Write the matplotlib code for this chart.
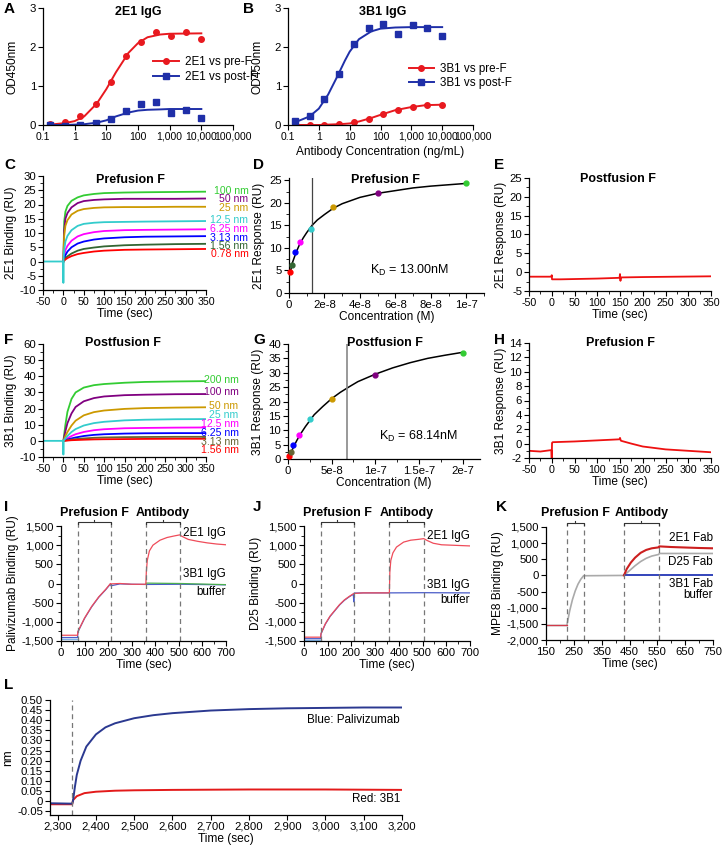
import matplotlib
matplotlib.use("Agg")
import matplotlib.pyplot as plt
import matplotlib.transforms as mtransforms
from matplotlib.ticker import AutoMinorLocator, FuncFormatter, FixedLocator
import numpy as np

plt.rcParams["font.family"] = ["Liberation Sans", "DejaVu Sans"]
plt.rcParams["font.size"] = 8.2
plt.rcParams["axes.labelsize"] = 8.6
plt.rcParams["axes.unicode_minus"] = False
plt.rcParams["mathtext.fontset"] = "custom"
plt.rcParams["mathtext.rm"] = "Liberation Sans"
plt.rcParams["mathtext.it"] = "Liberation Sans"
plt.rcParams["xtick.major.size"] = 3.5
plt.rcParams["ytick.major.size"] = 3.5
plt.rcParams["xtick.minor.size"] = 2
plt.rcParams["ytick.minor.size"] = 2
plt.rcParams["xtick.major.pad"] = 1.5
plt.rcParams["ytick.major.pad"] = 1.5
plt.rcParams["axes.linewidth"] = 0.9

# ---------------- data ----------------
# A / B : ELISA
elisa_conc = [0.17, 0.5, 1.5, 4.6, 13.7, 41, 123, 370, 1111, 3333, 10000]
a_pre = [0.02, 0.07, 0.22, 0.53, 1.11, 1.78, 2.13, 2.38, 2.27, 2.39, 2.21]
a_post = [-0.01, -0.02, 0.0, 0.04, 0.15, 0.36, 0.55, 0.60, 0.30, 0.38, 0.17]
a_fit_x = [0.17, 0.5, 1, 2, 5, 10, 20, 50, 100, 200, 500, 1000, 10000]
a_fit_pre = [0.01, 0.05, 0.10, 0.22, 0.55, 0.92, 1.35, 1.85, 2.10, 2.25, 2.32, 2.34, 2.35]
a_fit_post = [0.0, 0.0, 0.01, 0.02, 0.06, 0.12, 0.22, 0.32, 0.37, 0.39, 0.40, 0.41, 0.41]
b_pre = [-0.02, 0.0, 0.01, 0.03, 0.07, 0.16, 0.27, 0.39, 0.45, 0.52, 0.52]
b_post = [0.10, 0.24, 0.66, 1.30, 2.08, 2.50, 2.58, 2.33, 2.57, 2.50, 2.28]
b_fit_x = [0.17, 0.5, 1, 2, 4, 7, 10, 20, 50, 100, 300, 1000, 3000, 10000]
b_fit_pre = [0.0, 0.0, 0.0, 0.01, 0.02, 0.03, 0.04, 0.09, 0.18, 0.26, 0.38, 0.46, 0.51, 0.52]
b_fit_post = [0.07, 0.22, 0.42, 0.78, 1.25, 1.65, 1.88, 2.20, 2.40, 2.47, 2.50, 2.51, 2.51, 2.51]
log_ticks = [0.1, 1, 10, 100, 1000, 10000, 100000]
log_tick_labels = ["0.1", "1", "10", "100", "1,000", "10,000", "100,000"]

# C : 2E1 vs prefusion F sensorgrams
c_names = ["100 nm", "50 nm", "25 nm", "12.5 nm", "6.25 nm", "3.13 nm", "1.56 nm", "0.78 nm"]
c_time = [0, 2, 5, 10, 20, 35, 50, 75, 100, 150, 200, 275, 350]
c_resp = [
    [0, 14.0, 17.5, 19.5, 21.3, 22.5, 23.2, 23.7, 24.0, 24.2, 24.3, 24.4, 24.5],
    [0, 11.0, 15.0, 17.0, 19.0, 20.5, 21.2, 21.6, 21.8, 22.0, 22.0, 22.0, 22.1],
    [0, 9.0, 12.5, 14.5, 16.5, 17.8, 18.4, 18.8, 19.0, 19.1, 19.1, 19.2, 19.2],
    [0, 4.0, 7.0, 9.0, 11.0, 12.5, 13.2, 13.6, 13.8, 13.9, 14.0, 14.1, 14.2],
    [0, 2.0, 4.0, 5.5, 7.3, 8.8, 9.6, 10.3, 10.7, 11.0, 11.1, 11.2, 11.3],
    [0, 1.0, 2.2, 3.5, 5.0, 6.3, 7.0, 7.7, 8.1, 8.5, 8.7, 8.8, 8.9],
    [0, 0.5, 1.2, 1.8, 2.8, 3.8, 4.4, 4.9, 5.3, 5.7, 5.9, 6.1, 6.2],
    [0, 0.3, 0.7, 1.2, 1.9, 2.6, 3.0, 3.5, 3.8, 4.1, 4.2, 4.3, 4.4],
]
c_base_t = [-50, -0.5, 0, 0.6]
c_base_y = [0, 0, -7.5, 0]

# D : 2E1 steady state
d_conc = [0.78e-9, 1.56e-9, 3.13e-9, 6.25e-9, 12.5e-9, 25e-9, 50e-9, 100e-9]
d_resp = [4.6, 6.3, 9.0, 11.4, 14.3, 19.0, 22.2, 24.3]
d_fit_x = [0.78e-9, 2e-9, 4e-9, 6e-9, 8e-9, 10e-9, 13e-9, 16e-9, 20e-9, 25e-9, 30e-9,
           40e-9, 50e-9, 60e-9, 70e-9, 80e-9, 90e-9, 100e-9]
d_fit_y = [4.7, 6.8, 9.0, 10.8, 12.2, 13.4, 15.0, 16.2, 17.4, 18.8, 19.8,
           21.2, 22.1, 22.7, 23.3, 23.7, 24.0, 24.3]
d_kd = 1.3e-8

# E : 2E1 vs postfusion F
e_time = [-50, -1, 0, 0.6, 20, 100, 149, 150, 151, 152, 200, 350]
e_resp = [-1.2, -1.2, -0.8, -1.9, -1.9, -1.7, -1.5, -0.5, -2.3, -1.4, -1.3, -1.1]

# F : 3B1 vs postfusion F sensorgrams
f_names = ["200 nm", "100 nm", "50 nm", "25 nm", "12.5 nm", "6.25 nm", "3.13 nm", "1.56 nm"]
f_time = [0, 5, 10, 20, 30, 50, 75, 100, 150, 200, 275, 350]
f_resp = [
    [0, 10.0, 18.0, 26.0, 30.0, 33.0, 34.5, 35.2, 36.0, 36.5, 36.8, 37.0],
    [0, 6.0, 11.0, 17.0, 21.0, 24.5, 26.5, 27.5, 28.3, 28.6, 28.9, 29.0],
    [0, 3.0, 5.5, 9.5, 12.5, 15.8, 17.8, 18.8, 19.8, 20.3, 20.6, 20.8],
    [0, 1.5, 3.0, 5.5, 7.3, 9.5, 11.0, 11.8, 12.7, 13.1, 13.4, 13.5],
    [0, 0.8, 1.6, 3.0, 4.1, 5.5, 6.6, 7.2, 7.8, 8.0, 8.2, 8.3],
    [0, 0.4, 0.8, 1.5, 2.1, 3.0, 3.7, 4.1, 4.5, 4.7, 4.8, 4.8],
    [0, 0.2, 0.4, 0.8, 1.1, 1.5, 1.9, 2.1, 2.3, 2.4, 2.5, 2.5],
    [0, 0.1, 0.2, 0.4, 0.5, 0.7, 0.9, 1.0, 1.1, 1.2, 1.3, 1.3],
]
f_base_t = [-50, -0.5, 0, 0.6]
f_base_y = [0, 0, -8.5, 0]

# G : 3B1 steady state
g_conc = [1.56e-9, 3.13e-9, 6.25e-9, 12.5e-9, 25e-9, 50e-9, 100e-9, 200e-9]
g_resp = [1.2, 2.5, 4.8, 8.3, 13.8, 21.0, 29.2, 37.0]
g_fit_x = [0, 0.5e-8, 1e-8, 1.5e-8, 2e-8, 3e-8, 4e-8, 5e-8, 6e-8, 7e-8, 8e-8,
           10e-8, 12e-8, 14e-8, 16e-8, 18e-8, 20e-8]
g_fit_y = [0.3, 3.3, 6.4, 9.0, 11.3, 15.4, 18.3, 21.0, 23.2, 25.1, 26.9,
           29.5, 31.7, 33.5, 35.0, 36.1, 37.1]
g_kd = 6.814e-8

# H : 3B1 vs prefusion F
h_time = [-50, -25, -1, 0, 0.6, 2, 50, 100, 149, 150, 152, 175, 200, 250, 300, 350]
h_resp = [-1.0, -1.1, -0.9, -2.2, 0.1, 0.2, 0.3, 0.45, 0.6, 0.8, 0.4, 0.0, -0.4, -0.8, -1.0, -1.2]

# I : palivizumab competition
i_red_t = [0, 70, 72, 100, 130, 160, 190, 210, 212, 250, 300, 360, 362, 366, 375, 390,
           420, 450, 480, 505, 510, 540, 580, 620, 660, 700]
i_red_y = [-1350, -1350, -1250, -900, -600, -350, -150, 0, -10, 0, -20, -20, 300, 600, 850, 1000,
           1130, 1200, 1240, 1270, 1240, 1150, 1100, 1060, 1030, 1010]
i_blue_t = [0, 70, 72, 100, 130, 160, 190, 210, 212, 250, 300, 360, 505, 700]
i_blue_y = [-1410, -1410, -1260, -910, -610, -360, -160, -10, -60, -10, -20, -25, -20, -35]
i_green_t = [360, 362, 505, 700]
i_green_y = [-20, 10, 0, -30]
i_cyan_t = [0, 70]
i_cyan_y = [-1460, -1460]
i_marks = [70, 210, 360, 505]

# J : D25 competition
j_red_t = [0, 70, 72, 90, 110, 130, 150, 170, 190, 210, 250, 300, 360, 362, 366, 375, 390,
           420, 450, 480, 505, 520, 545, 580, 620, 660, 700]
j_red_y = [-1400, -1400, -1300, -1050, -850, -700, -550, -430, -340, -260, -245, -245, -245, 300,
           600, 800, 950, 1080, 1130, 1150, 1170, 1120, 1050, 1010, 1000, 990, 980]
j_blue_t = [0, 70, 72, 90, 110, 130, 150, 170, 190, 208, 210, 212, 250, 360, 505, 700]
j_blue_y = [-1440, -1440, -1310, -1060, -860, -710, -560, -440, -350, -280, -480, -250, -245, -245,
            -240, -245]
j_cyan_t = [0, 70]
j_cyan_y = [-1470, -1470]
j_marks = [70, 210, 360, 505]

# K : MPE8 competition (Fab)
k_grey_t = [150, 225, 226, 235, 245, 255, 265, 275, 285, 430, 450, 470, 490, 510, 530, 555, 557, 750]
k_grey_y = [-1550, -1550, -1500, -1100, -750, -480, -270, -120, -10, 0, 150, 300, 430, 530, 600,
            650, 680, 680]
k_red_t = [150, 225, 430, 440, 455, 470, 490, 510, 530, 555, 557, 600, 650, 700, 750]
k_red_y = [-1550, -1550, 0, 200, 400, 550, 700, 790, 840, 870, 900, 880, 865, 850, 840]
k_blue_t = [430, 555, 750]
k_blue_y = [0, 0, 0]
k_marks = [225, 285, 430, 555]

# L : BLI
l_blue_t = [2280, 2338, 2340, 2345, 2350, 2360, 2375, 2400, 2425, 2450, 2500, 2550, 2600, 2700,
            2800, 2900, 3000, 3100, 3200]
l_blue_y = [-0.010, -0.012, 0.0, 0.07, 0.13, 0.20, 0.27, 0.33, 0.365, 0.385, 0.41, 0.425, 0.435,
            0.448, 0.455, 0.459, 0.461, 0.463, 0.463]
l_red_t = [2280, 2338, 2340, 2350, 2370, 2400, 2450, 2500, 2600, 2800, 3000, 3200]
l_red_y = [-0.015, -0.015, 0.005, 0.025, 0.040, 0.047, 0.052, 0.054, 0.056, 0.058, 0.058, 0.056]
l_start = 2338

# ---------------- styles ----------------
conc_colors = ["#33cc33", "#800080", "#cc9900", "#33cccc", "#ff00ff", "#0000ff", "#336633", "#ff0000"]
f_colors = ["#33cc33", "#800080", "#cc9900", "#33cccc", "#ff00ff", "#0000ff", "#666633", "#ff0000"]
RED = "#e8191f"
BLUE = "#1f2fa8"
LAB = 8.4
CONC_FS = 7.6

W, H = 722, 850
fig = plt.figure(figsize=(W / 100, H / 100), dpi=100)


def px_axes(l, t, r, b):
    ax = fig.add_axes([l / W, 1 - b / H, (r - l) / W, (b - t) / H])
    ax.spines["top"].set_visible(False)
    ax.spines["right"].set_visible(False)
    return ax


def ftext(x, y, s, **kw):
    fig.text(x / W, 1 - y / H, s, **kw)


def letter(x, y, s):
    ftext(x, y, s, fontsize=11, fontweight="bold", ha="left", va="center")


def title(x, y, s):
    ftext(x, y, s, fontsize=9, fontweight="bold", ha="center", va="center")


def comma(v, pos):
    return f"{v:,.0f}"


# ---- A ----
axA = px_axes(43, 8, 233, 125)
axA.set_xscale("log")
axA.plot(a_fit_x, a_fit_pre, color=RED, lw=1.4)
axA.plot(a_fit_x, a_fit_post, color=BLUE, lw=1.4)
axA.plot(elisa_conc, a_pre, "o", color=RED, ms=4)
axA.plot(elisa_conc, a_post, "s", color=BLUE, ms=4)
axA.plot([], [], "-o", color=RED, ms=4, lw=1.4, label="2E1 vs pre-F")
axA.plot([], [], "-s", color=BLUE, ms=4, lw=1.4, label="2E1 vs post-F")
axA.legend(loc="upper left", bbox_to_anchor=(0.55, 0.64), frameon=False, fontsize=LAB,
           handlelength=2.2, handletextpad=0.5, labelspacing=0.3, borderpad=0)
axA.set_ylabel("OD450nm", labelpad=8)
title(138, 12, "2E1 IgG")
letter(4, 9, "A")

# ---- B ----
axB = px_axes(288, 8, 473, 125)
axB.set_xscale("log")
axB.plot(b_fit_x, b_fit_pre, color=RED, lw=1.4)
axB.plot(b_fit_x, b_fit_post, color=BLUE, lw=1.4)
axB.plot(elisa_conc, b_pre, "o", color=RED, ms=4)
axB.plot(elisa_conc, b_post, "s", color=BLUE, ms=4)
axB.plot([], [], "-o", color=RED, ms=4, lw=1.4, label="3B1 vs pre-F")
axB.plot([], [], "-s", color=BLUE, ms=4, lw=1.4, label="3B1 vs post-F")
axB.legend(loc="upper left", bbox_to_anchor=(0.62, 0.58), frameon=False, fontsize=LAB,
           handlelength=2.2, handletextpad=0.5, labelspacing=0.2, borderpad=0)
axB.set_ylabel("OD450nm", labelpad=8)
axB.set_xlabel("Antibody Concentration (ng/mL)", labelpad=3)
title(383, 12, "3B1 IgG")
letter(243, 9, "B")

for ax in (axA, axB):
    ax.set_xlim(0.1, 100000)
    ax.set_ylim(0, 3)
    ax.set_yticks([0, 1, 2, 3])
    ax.xaxis.set_major_locator(FixedLocator(log_ticks))
    ax.set_xticklabels(log_tick_labels)
    ax.xaxis.set_minor_locator(FixedLocator([]))
    ax.tick_params(axis="x", labelsize=7.5)

# ---- C ----
axC = px_axes(43, 176, 206, 290)
order = [0, 1, 2, 4, 5, 6, 7, 3]
for k in order:
    axC.plot(c_time, c_resp[k], color=conc_colors[k], lw=1.3)
axC.plot(c_base_t, c_base_y, color=conc_colors[3], lw=1.3)
c_label_y = [24.9, 21.8, 18.7, 14.6, 11.3, 8.4, 5.4, 2.5]
trC = mtransforms.blended_transform_factory(axC.transAxes, axC.transData)
for k, name in enumerate(c_names):
    axC.text(1.26, c_label_y[k], name, color=conc_colors[k], transform=trC, ha="right",
             va="center", fontsize=CONC_FS)
axC.set_xlim(-50, 350)
axC.set_ylim(-10, 30)
axC.set_xticks(range(-50, 351, 50))
axC.set_yticks(range(-10, 31, 5))
axC.set_ylabel("2E1 Binding (RU)", labelpad=2)
axC.set_xlabel("Time (sec)", labelpad=1)
title(130, 180, "Prefusion F")
letter(4, 165, "C")

# ---- D ----
axD = px_axes(289, 178, 484, 293)
axD.plot(d_fit_x, d_fit_y, color="black", lw=1.1)
axD.axvline(d_kd, color="#444444", lw=0.9)
for k in range(len(d_conc)):
    axD.errorbar(d_conc[k], d_resp[k], yerr=0.35, fmt="o", ms=3.5, color=conc_colors[::-1][k],
                 elinewidth=1.0, capsize=0, zorder=3, clip_on=False)
axD.set_xlim(0, 1.1e-7)
axD.set_ylim(0, 25.5)
axD.set_xticks([0, 2e-8, 4e-8, 6e-8, 8e-8, 1e-7])
axD.set_xticklabels(["0", "2e-8", "4e-8", "6e-8", "8e-8", "1e-7"])
axD.set_yticks(range(0, 26, 5))
axD.text(0.9e-7, 5, "K$_\\mathregular{D}$ = 13.00nM", ha="right", va="center", fontsize=9)
axD.set_ylabel("2E1 Response (RU)", labelpad=3)
axD.set_xlabel("Concentration (M)", labelpad=1)
title(385, 180, "Prefusion F")
letter(253, 165, "D")

# ---- E ----
axE = px_axes(529, 178, 711, 291)
axE.plot(e_time, e_resp, color="#ee1111", lw=1.3)
axE.set_xlim(-50, 350)
axE.set_ylim(-5, 25)
axE.set_xticks(range(-50, 351, 50))
axE.set_yticks(range(-5, 26, 5))
axE.set_ylabel("2E1 Response (RU)", labelpad=2)
axE.set_xlabel("Time (sec)", labelpad=1)
title(618, 179, "Postfusion F")
letter(494, 165, "E")

# ---- F ----
axF = px_axes(43, 344, 206, 457)
order = [0, 1, 2, 4, 5, 6, 7, 3]
for k in order:
    axF.plot(f_time, f_resp[k], color=f_colors[k], lw=1.3)
axF.plot(f_base_t, f_base_y, color=f_colors[3], lw=1.3)
f_label_y = [37.8, 30.5, 21.5, 15.8, 10.3, 5.1, -0.7, -5.8]
trF = mtransforms.blended_transform_factory(axF.transAxes, axF.transData)
for k, name in enumerate(f_names):
    axF.text(1.2, f_label_y[k], name, color=f_colors[k], transform=trF, ha="right",
             va="center", fontsize=CONC_FS)
axF.set_xlim(-50, 350)
axF.set_ylim(-10, 60)
axF.set_xticks(range(-50, 351, 50))
axF.set_yticks(range(-10, 61, 10))
axF.set_ylabel("3B1 Binding (RU)", labelpad=2)
axF.set_xlabel("Time (sec)", labelpad=1)
title(123, 343, "Postfusion F")
letter(4, 340, "F")

# ---- G ----
axG = px_axes(288, 344, 480, 459)
axG.plot(g_fit_x, g_fit_y, color="black", lw=1.1)
axG.axvline(g_kd, color="#888888", lw=1.2)
for k in range(len(g_conc)):
    axG.errorbar(g_conc[k], g_resp[k], yerr=0.5, fmt="o", ms=3.5, color=f_colors[::-1][k],
                 elinewidth=1.0, capsize=0, zorder=3, clip_on=False)
axG.set_xlim(0, 2.2e-7)
axG.set_ylim(0, 40)
axG.set_xticks([0, 5e-8, 1e-7, 1.5e-7, 2e-7])
axG.set_xticklabels(["0", "5e-8", "1e-7", "1.5e-7", "2e-7"])
axG.set_yticks(range(0, 41, 5))
axG.text(1.95e-7, 8, "K$_\\mathregular{D}$ = 68.14nM", ha="right", va="center", fontsize=9)
axG.set_ylabel("3B1 Response (RU)", labelpad=3)
axG.set_xlabel("Concentration (M)", labelpad=1)
title(385, 343, "Postfusion F")
letter(253, 340, "G")

# ---- H ----
axH = px_axes(529, 343, 711, 458)
axH.plot(h_time, h_resp, color="#ee1111", lw=1.3)
axH.set_xlim(-50, 350)
axH.set_ylim(-2, 14)
axH.set_xticks(range(-50, 351, 50))
axH.set_yticks(range(-2, 15, 2))
axH.set_ylabel("3B1 Response (RU)", labelpad=2)
axH.set_xlabel("Time (sec)", labelpad=1)
title(620, 343, "Prefusion F")
letter(494, 340, "H")

for ax in (axC, axE, axF, axH, axD, axG):
    ax.xaxis.set_minor_locator(AutoMinorLocator(2))
    ax.yaxis.set_minor_locator(AutoMinorLocator(2))
for ax in (axC, axE, axF, axH):
    ax.tick_params(axis="x", labelsize=7.7)


def bracket(ax, x0, x1, y, drop, label, label_px_y):
    ax.plot([x0, x0, x1, x1], [y - drop, y, y, y - drop], color="#333333", lw=0.8,
            clip_on=False)
    xm = (x0 + x1) / 2
    ax.plot([xm, xm], [y, y + drop], color="#333333", lw=0.8, clip_on=False)
    disp = ax.transData.transform((xm, 0))
    ftext(disp[0] / fig.dpi * 100, label_px_y, label, fontsize=9, fontweight="bold",
          ha="center", va="center")


def marks(ax, xs, ybot, ytop):
    for x in xs:
        ax.plot([x, x], [ybot, ytop], color="#777777", lw=0.9, ls=(0, (4, 3)), clip_on=False)


# ---- I ----
axI = px_axes(61, 526, 226, 641)
axI.plot(i_cyan_t, i_cyan_y, color="#7fb3e6", lw=1.0)
axI.plot(i_blue_t, i_blue_y, color="#4a5cc8", lw=0.9)
axI.plot(i_green_t, i_green_y, color="#4caf50", lw=0.9)
axI.plot(i_red_t, i_red_y, color="#ef4c5a", lw=0.9)
axI.set_xlim(0, 700)
axI.set_ylim(-1500, 1500)
marks(axI, i_marks, -1500, 1600)
bracket(axI, i_marks[0], i_marks[1], 1600, 60, "Prefusion F", 513)
bracket(axI, i_marks[2], i_marks[3], 1600, 60, "Antibody", 513)
trI = mtransforms.blended_transform_factory(axI.transAxes, axI.transData)
axI.text(1.0, 1330, "2E1 IgG", transform=trI, ha="right", va="center", fontsize=LAB)
axI.text(1.0, 250, "3B1 IgG", transform=trI, ha="right", va="center", fontsize=LAB)
axI.text(1.0, -210, "buffer", transform=trI, ha="right", va="center", fontsize=LAB)
axI.set_ylabel("Palivizumab Binding (RU)", labelpad=2)
letter(4, 507, "I")

# ---- J ----
axJ = px_axes(304, 526, 470, 641)
axJ.plot(j_cyan_t, j_cyan_y, color="#7fb3e6", lw=1.0)
axJ.plot(j_blue_t, j_blue_y, color="#4a5cc8", lw=0.9)
axJ.plot(j_red_t, j_red_y, color="#ef4c5a", lw=0.9)
axJ.set_xlim(0, 700)
axJ.set_ylim(-1500, 1500)
marks(axJ, j_marks, -1500, 1600)
bracket(axJ, j_marks[0], j_marks[1], 1600, 60, "Prefusion F", 513)
bracket(axJ, j_marks[2], j_marks[3], 1600, 60, "Antibody", 513)
trJ = mtransforms.blended_transform_factory(axJ.transAxes, axJ.transData)
axJ.text(1.0, 1230, "2E1 IgG", transform=trJ, ha="right", va="center", fontsize=LAB)
axJ.text(1.0, -30, "3B1 IgG", transform=trJ, ha="right", va="center", fontsize=LAB)
axJ.text(1.0, -440, "buffer", transform=trJ, ha="right", va="center", fontsize=LAB)
axJ.set_ylabel("D25 Binding (RU)", labelpad=2)
letter(253, 507, "J")

for ax in (axI, axJ):
    ax.set_xticks(range(0, 701, 100))
    ax.set_yticks(range(-1500, 1501, 500))
    ax.xaxis.set_minor_locator(AutoMinorLocator(2))
    ax.yaxis.set_minor_locator(AutoMinorLocator(2))
    ax.yaxis.set_major_formatter(FuncFormatter(comma))
    ax.set_xlabel("Time (sec)", labelpad=1)

# ---- K ----
axK = px_axes(546, 527, 713, 640)
axK.plot(k_grey_t, k_grey_y, color="#aaaaaa", lw=1.2)
axK.plot(k_blue_t, k_blue_y, color="#3344bb", lw=1.4)
axK.plot(k_red_t[:2], k_red_y[:2], color="#d23a4a", lw=0.9)
axK.plot(k_red_t[2:], k_red_y[2:], color="#cc1f1f", lw=1.5)
axK.set_xlim(150, 750)
axK.set_ylim(-2000, 1500)
marks(axK, k_marks, -2000, 1620)
bracket(axK, k_marks[0], k_marks[1], 1620, 70, "Prefusion F", 513)
bracket(axK, k_marks[2], k_marks[3], 1620, 70, "Antibody", 513)
trK = mtransforms.blended_transform_factory(axK.transAxes, axK.transData)
axK.text(1.0, 1160, "2E1 Fab", transform=trK, ha="right", va="center", fontsize=LAB)
axK.text(1.0, 410, "D25 Fab", transform=trK, ha="right", va="center", fontsize=LAB)
axK.text(1.0, -260, "3B1 Fab", transform=trK, ha="right", va="center", fontsize=LAB)
axK.text(1.0, -600, "buffer", transform=trK, ha="right", va="center", fontsize=LAB)
axK.set_xticks(range(150, 751, 100))
axK.set_yticks(range(-2000, 1501, 500))
axK.xaxis.set_minor_locator(AutoMinorLocator(2))
axK.yaxis.set_major_formatter(FuncFormatter(comma))
axK.set_ylabel("MPE8 Binding (RU)", labelpad=2)
axK.set_xlabel("Time (sec)", labelpad=1)
letter(496, 507, "K")

# ---- L ----
axL = px_axes(50, 700, 402, 815)
axL.plot(l_red_t, l_red_y, color="#e31a1a", lw=1.4)
axL.plot(l_blue_t, l_blue_y, color="#2b3990", lw=1.4)
axL.axvline(l_start, color="#777777", lw=0.9, ls=(0, (4, 3)))
axL.set_xlim(2280, 3200)
axL.set_ylim(-0.068, 0.50)
axL.set_xticks(range(2300, 3201, 100))
axL.set_yticks(np.arange(-0.05, 0.501, 0.05))
axL.xaxis.set_major_formatter(FuncFormatter(comma))
axL.yaxis.set_major_formatter(FuncFormatter(lambda v, p: "0" if abs(v) < 1e-9 else f"{v:.2f}"))
axL.text(3195, 0.40, "Blue: Palivizumab", ha="right", va="center", fontsize=LAB)
axL.text(3195, 0.012, "Red: 3B1", ha="right", va="center", fontsize=LAB)
axL.set_ylabel("nm", labelpad=2)
axL.set_xlabel("Time (sec)", labelpad=1)
letter(4, 685, "L")

fig.savefig("out.png", dpi=100)
